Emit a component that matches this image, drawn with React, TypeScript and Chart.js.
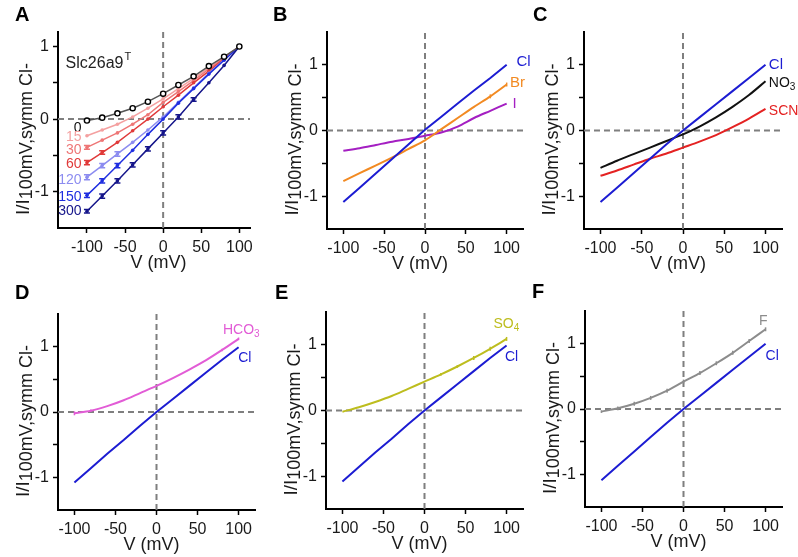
import React, { useEffect, useRef } from 'react';
import { Chart, registerables } from 'chart.js';
Chart.register(...registerables);

const FONT = '"Liberation Sans", Arial, Helvetica, sans-serif';

// ---------- data ----------
const V = [-100, -80, -60, -40, -20, 0, 20, 40, 60, 80, 100];
const X_TICKS = [-100, -50, 0, 50, 100];
const Y_TICKS = [-1, -0.5, 0, 0.5, 1];

// Panel A (Slc26a9T, time series in labels)
const A_0 = [-0.02, 0.02, 0.08, 0.15, 0.24, 0.35, 0.47, 0.59, 0.73, 0.86, 1.0];
const A_15 = [-0.23, -0.15, -0.07, 0.03, 0.15, 0.28, 0.42, 0.56, 0.71, 0.85, 1.0];
const A_30 = [-0.39, -0.29, -0.19, -0.07, 0.06, 0.23, 0.38, 0.53, 0.69, 0.84, 1.0];
const A_60 = [-0.6, -0.46, -0.32, -0.16, 0.0, 0.17, 0.33, 0.5, 0.66, 0.83, 1.0];
const A_120 = [-0.8, -0.64, -0.48, -0.32, -0.15, 0.03, 0.23, 0.43, 0.63, 0.82, 1.0];
const A_150 = [-1.05, -0.85, -0.64, -0.43, -0.21, 0.0, 0.22, 0.42, 0.62, 0.81, 1.0];
const A_300 = [-1.27, -1.06, -0.85, -0.63, -0.41, -0.19, 0.03, 0.27, 0.5, 0.74, 1.0];
const A_30_ERR = [0.025, 0, 0, 0, 0, 0, 0, 0, 0, 0, 0];
const A_60_ERR = [0.03, 0.025, 0, 0, 0, 0, 0, 0, 0, 0, 0];
const A_120_ERR = [0.035, 0.03, 0.03, 0, 0, 0, 0, 0, 0, 0, 0];
const A_150_ERR = [0.03, 0.03, 0.03, 0, 0, 0, 0, 0, 0, 0, 0];
const A_300_ERR = [0.025, 0.03, 0.03, 0.03, 0.03, 0.03, 0.03, 0.025, 0, 0, 0];
const A_LABEL_Y = [-0.12, -0.25, -0.43, -0.62, -0.84, -1.07, -1.27];
const A_NAMES = ['0', '15', '30', '60', '120', '150', '300'];

// Panel B
const B_CL = [-1.09, -0.87, -0.65, -0.43, -0.21, 0.01, 0.21, 0.41, 0.61, 0.8, 1.0];
const B_BR = [-0.77, -0.65, -0.53, -0.41, -0.28, -0.15, 0.02, 0.19, 0.36, 0.52, 0.7];
const B_I = [-0.31, -0.27, -0.22, -0.17, -0.13, -0.08, -0.03, 0.06, 0.19, 0.3, 0.41];
const B_BR_ERR = [0, 0, 0, 0, 0, 0, 0, 0, 0, 0.03, 0.03];

// Panel C
const C_CL = [-1.09, -0.87, -0.65, -0.43, -0.21, 0.0, 0.2, 0.4, 0.6, 0.8, 1.0];
const C_NO3 = [-0.57, -0.46, -0.36, -0.26, -0.16, -0.06, 0.06, 0.2, 0.36, 0.54, 0.75];
const C_SCN = [-0.69, -0.61, -0.52, -0.43, -0.35, -0.26, -0.17, -0.07, 0.05, 0.18, 0.33];

// Panel D
const D_CL = [-1.08, -0.86, -0.64, -0.43, -0.21, 0.0, 0.2, 0.4, 0.6, 0.8, 0.99];
const D_HCO3 = [-0.02, 0.02, 0.09, 0.18, 0.29, 0.4, 0.52, 0.65, 0.79, 0.95, 1.12];
const D_HCO3_ERR = [0.03, 0.02, 0, 0, 0, 0, 0, 0, 0, 0.02, 0.02];

// Panel E
const E_CL = [-1.08, -0.86, -0.64, -0.43, -0.21, 0.0, 0.2, 0.4, 0.6, 0.8, 0.99];
const E_SO4 = [-0.02, 0.05, 0.13, 0.22, 0.33, 0.44, 0.55, 0.67, 0.8, 0.94, 1.09];
const E_SO4_ERR = [0, 0, 0, 0, 0, 0, 0.02, 0.02, 0.03, 0.03, 0.03];

// Panel F
const F_CL = [-1.09, -0.87, -0.65, -0.43, -0.21, 0.0, 0.2, 0.4, 0.6, 0.8, 1.0];
const F_F = [-0.04, 0.01, 0.08, 0.17, 0.28, 0.42, 0.55, 0.7, 0.86, 1.04, 1.22];
const F_F_ERR = [0.02, 0.03, 0.03, 0.03, 0.03, 0.03, 0.03, 0.03, 0.03, 0.03, 0.03];

// ---------- styles ----------
const BLUE = '#1c1cd2';
const A_COLORS = ['#555555', '#f4a0a0', '#ee7676', '#e03a3a', '#8c8cf0', '#1f2ee0', '#15158a'];
const A_LABEL_COLORS = ['#111111', '#f4a0a0', '#ee7676', '#e03a3a', '#8c8cf0', '#1f2ee0', '#15158a'];

type Series = {
  y: number[];
  color: string;
  width: number;
  radius?: number;
  fill?: string;
  pborder?: number;
  err?: number[];
  cap?: number;
  tension?: number;
};
type Label = {
  text: string;
  sub?: string;
  sup?: string;
  x: number;
  y: number;
  color: string;
  size: number;
  align?: 'left' | 'right';
  baseline?: CanvasTextBaseline;
};
type PanelDef = {
  letter: string;
  letterPos: [number, number];
  area: [number, number, number, number];
  xRange: [number, number];
  yRange: [number, number];
  series: Series[];
  labels: Label[];
};

const A_SERIES: Series[] = [A_0, A_15, A_30, A_60, A_120, A_150, A_300].map((y, i) => ({
  y,
  color: A_COLORS[i],
  width: 1.5,
  radius: i === 0 ? 2.6 : 1.8,
  fill: i === 0 ? '#ffffff' : A_COLORS[i],
  pborder: i === 0 ? 1.4 : 0,
  err: [undefined, undefined, A_30_ERR, A_60_ERR, A_120_ERR, A_150_ERR, A_300_ERR][i],
  cap: 3,
  tension: 0,
}));
const A_SERIES_ORDERED = [A_SERIES[0], ...A_SERIES.slice(1).reverse()];
const A_LABELS: Label[] = [
  ...A_NAMES.map((t, i) => ({ text: t, x: -107, y: A_LABEL_Y[i], color: A_LABEL_COLORS[i], size: 14, align: 'right' as const })),
  { text: 'Slc26a9', sup: 'T', x: -128, y: 0.7, color: '#222', size: 16, baseline: 'alphabetic' as CanvasTextBaseline },
];

const curve = (y: number[], color: string, err?: number[]): Series => ({ y, color, width: 2, radius: 0, err, cap: 0, tension: 0.3 });
const clLine = (y: number[]): Series => ({ y, color: BLUE, width: 2, radius: 0, tension: 0 });

const PANELS: PanelDef[] = [
  {
    letter: 'A', letterPos: [15, 4], area: [58, 32, 250, 228], xRange: [-138, 114], yRange: [-1.5, 1.2],
    series: A_SERIES_ORDERED, labels: A_LABELS,
  },
  {
    letter: 'B', letterPos: [273, 4], area: [327, 32, 523, 229], xRange: [-120, 120], yRange: [-1.5, 1.5],
    series: [clLine(B_CL), curve(B_BR, '#f28a22', B_BR_ERR), curve(B_I, '#a41fc2')],
    labels: [
      { text: 'Cl', x: 112, y: 1.05, color: BLUE, size: 15 },
      { text: 'Br', x: 104, y: 0.73, color: '#f28a22', size: 15 },
      { text: 'I', x: 107, y: 0.4, color: '#a41fc2', size: 15 },
    ],
  },
  {
    letter: 'C', letterPos: [533, 4], area: [584, 32, 782, 229], xRange: [-120, 120], yRange: [-1.5, 1.5],
    series: [clLine(C_CL), curve(C_NO3, '#111111'), curve(C_SCN, '#e42222')],
    labels: [
      { text: 'Cl', x: 104, y: 1.0, color: BLUE, size: 15 },
      { text: 'NO', sub: '3', x: 104, y: 0.72, color: '#111111', size: 14 },
      { text: 'SCN', x: 104, y: 0.3, color: '#e42222', size: 14 },
    ],
  },
  {
    letter: 'D', letterPos: [15, 282], area: [58, 314, 255, 510], xRange: [-120, 120], yRange: [-1.5, 1.5],
    series: [clLine(D_CL), curve(D_HCO3, '#e25cd6', D_HCO3_ERR)],
    labels: [
      { text: 'HCO', sub: '3', x: 81, y: 1.25, color: '#e25cd6', size: 14 },
      { text: 'Cl', x: 99.5, y: 0.83, color: BLUE, size: 14 },
    ],
  },
  {
    letter: 'E', letterPos: [275, 282], area: [326, 312, 523, 509], xRange: [-120, 120], yRange: [-1.5, 1.5],
    series: [clLine(E_CL), curve(E_SO4, '#bdbd1e', E_SO4_ERR)],
    labels: [
      { text: 'SO', sub: '4', x: 84, y: 1.31, color: '#bdbd1e', size: 14 },
      { text: 'Cl', x: 98, y: 0.81, color: BLUE, size: 14 },
    ],
  },
  {
    letter: 'F', letterPos: [532, 281], area: [585, 311, 782, 507], xRange: [-120, 120], yRange: [-1.5, 1.5],
    series: [clLine(F_CL), curve(F_F, '#8c8c8c', F_F_ERR)],
    labels: [
      { text: 'F', x: 92, y: 1.35, color: '#8c8c8c', size: 14 },
      { text: 'Cl', x: 100, y: 0.81, color: BLUE, size: 14 },
    ],
  },
];

const PAD_L = 56;
const PAD_T = 32;
const PAD_R = 16;
const PAD_B = 46;

function drawLabel(ctx: CanvasRenderingContext2D, l: Label, px: number, py: number) {
  ctx.save();
  ctx.fillStyle = l.color;
  ctx.textBaseline = l.baseline ?? 'middle';
  ctx.textAlign = 'left';
  ctx.font = `${l.size}px ${FONT}`;
  const mw = ctx.measureText(l.text).width;
  const small = Math.round(l.size * 0.7);
  ctx.font = `${small}px ${FONT}`;
  const extra = l.sub ? ctx.measureText(l.sub).width : l.sup ? ctx.measureText(l.sup).width : 0;
  const total = mw + extra;
  const sx = l.align === 'right' ? px - total : px;
  ctx.font = `${l.size}px ${FONT}`;
  ctx.fillText(l.text, sx, py);
  ctx.font = `${small}px ${FONT}`;
  if (l.sub) ctx.fillText(l.sub, sx + mw, py + l.size * 0.3);
  if (l.sup) ctx.fillText(l.sup, sx + mw + 1, py - l.size * 0.5);
  ctx.restore();
}

function PanelChart({ p }: { p: PanelDef }) {
  const ref = useRef<HTMLCanvasElement>(null);
  const L = Math.round(p.area[0]);
  const T = Math.round(p.area[1]);
  const R = Math.round(p.area[2]);
  const B = Math.round(p.area[3]);
  const left = L - PAD_L;
  const top = T - PAD_T;
  const width = R - L + PAD_L + PAD_R;
  const height = B - T + PAD_T + PAD_B;

  useEffect(() => {
    const canvas = ref.current;
    if (!canvas) return;
    const datasets: any[] = [
      {
        data: [{ x: p.xRange[0], y: 0 }, { x: p.xRange[1], y: 0 }],
        borderColor: '#7f7f7f', borderWidth: 2, borderDash: [6, 4], pointRadius: 0, order: 10,
      },
      {
        data: [{ x: 0, y: p.yRange[0] }, { x: 0, y: p.yRange[1] }],
        borderColor: '#7f7f7f', borderWidth: 2, borderDash: [6, 4], pointRadius: 0, order: 10,
      },
      ...p.series.map((s) => ({
        data: V.map((x, i) => ({ x, y: s.y[i] })),
        borderColor: s.color,
        borderWidth: s.width,
        pointRadius: s.radius ?? 0,
        pointBackgroundColor: s.fill ?? s.color,
        pointBorderColor: s.color === '#555555' ? '#000000' : s.color,
        pointBorderWidth: s.pborder ?? 0,
        tension: s.tension ?? 0,
        fill: false,
        order: 1,
      })),
    ];

    const extras = {
      id: 'extras',
      afterDatasetsDraw(chart: any) {
        const ctx: CanvasRenderingContext2D = chart.ctx;
        const xs = chart.scales.x;
        const ys = chart.scales.y;
        p.series.forEach((s) => {
          if (!s.err) return;
          ctx.save();
          ctx.strokeStyle = s.color;
          ctx.lineWidth = 1.5;
          s.err.forEach((e, i) => {
            if (!e) return;
            const px = xs.getPixelForValue(V[i]);
            const y1 = ys.getPixelForValue(s.y[i] + e);
            const y2 = ys.getPixelForValue(s.y[i] - e);
            ctx.beginPath();
            ctx.moveTo(px, y1);
            ctx.lineTo(px, y2);
            if (s.cap) {
              ctx.moveTo(px - s.cap, y1);
              ctx.lineTo(px + s.cap, y1);
              ctx.moveTo(px - s.cap, y2);
              ctx.lineTo(px + s.cap, y2);
            }
            ctx.stroke();
          });
          ctx.restore();
        });
        p.labels.forEach((l) => drawLabel(ctx, l, xs.getPixelForValue(l.x), ys.getPixelForValue(l.y)));

        const ca = chart.chartArea;
        ctx.save();
        ctx.fillStyle = '#1a1a1a';
        ctx.font = `18px ${FONT}`;
        ctx.textAlign = 'center';
        ctx.textBaseline = 'middle';
        ctx.fillText('V (mV)', xs.getPixelForValue(-6), ca.bottom + 35);
        ctx.restore();

        ctx.save();
        ctx.fillStyle = '#1a1a1a';
        ctx.translate(ca.left - 34, (ca.top + ca.bottom) / 2 + 9);
        ctx.rotate(-Math.PI / 2);
        ctx.textBaseline = 'middle';
        ctx.textAlign = 'left';
        const mainF = `19px ${FONT}`;
        const subF = `18px ${FONT}`;
        ctx.font = mainF;
        const w1 = ctx.measureText('I/I').width;
        ctx.font = subF;
        const w2 = ctx.measureText('100mV,symm Cl-').width;
        const sx = -(w1 + w2) / 2;
        ctx.font = mainF;
        ctx.fillText('I/I', sx, 0);
        ctx.font = subF;
        ctx.fillText('100mV,symm Cl-', sx + w1, 3);
        ctx.restore();
      },
    };

    const tickFont = { size: 16, family: FONT };
    const chart = new Chart(canvas, {
      type: 'line',
      data: { datasets },
      options: {
        animation: false,
        responsive: false,
        maintainAspectRatio: false,
        layout: { padding: { top: PAD_T, right: PAD_R, left: 0, bottom: 0 } },
        plugins: { legend: { display: false }, tooltip: { enabled: false } },
        scales: {
          x: {
            type: 'linear',
            min: p.xRange[0],
            max: p.xRange[1],
            afterBuildTicks: (s: any) => { s.ticks = X_TICKS.map((v) => ({ value: v })); },
            afterFit: (s: any) => { s.height = PAD_B; },
            ticks: { font: tickFont, color: '#1a1a1a', padding: 5, maxRotation: 0, autoSkip: false, callback: (v: any) => String(v) },
            grid: { drawOnChartArea: false, drawTicks: true, tickLength: 5, tickColor: '#000', tickWidth: 1.5 },
            border: { display: true, color: '#000', width: 2 },
          },
          y: {
            type: 'linear',
            min: p.yRange[0],
            max: p.yRange[1],
            afterBuildTicks: (s: any) => { s.ticks = Y_TICKS.map((v) => ({ value: v })); },
            afterFit: (s: any) => { s.width = PAD_L; },
            ticks: {
              font: tickFont, color: '#1a1a1a', padding: 4, autoSkip: false,
              callback: (v: any) => (Number.isInteger(Number(v)) ? String(v) : ''),
            },
            grid: { drawOnChartArea: false, drawTicks: true, tickLength: 5, tickColor: '#000', tickWidth: 1.5 },
            border: { display: true, color: '#000', width: 2 },
          },
        },
      } as any,
      plugins: [extras],
    });
    return () => chart.destroy();
  }, []);

  return (
    <div style={{ position: 'absolute', left, top, width, height }}>
      <canvas ref={ref} width={width} height={height} style={{ width, height, display: 'block' }} />
    </div>
  );
}

export default function App() {
  return (
    <div style={{ position: 'absolute', left: 0, top: 0, width: 798, height: 557, background: '#ffffff', overflow: 'hidden' }}>
      {PANELS.map((p) => (
        <PanelChart key={p.letter} p={p} />
      ))}
      {PANELS.map((p) => (
        <div
          key={'L' + p.letter}
          style={{
            position: 'absolute', left: p.letterPos[0], top: p.letterPos[1],
            font: `bold 20px ${FONT}`, lineHeight: '20px', color: '#000', zIndex: 2,
          }}
        >
          {p.letter}
        </div>
      ))}
    </div>
  );
}
